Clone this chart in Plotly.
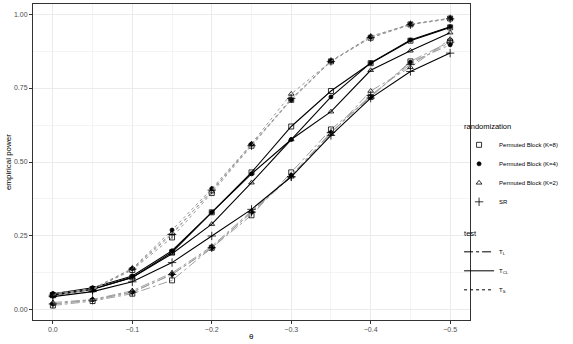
import plotly.graph_objects as go

# effect size theta (x axis, shown reversed)
theta = [0.0, -0.05, -0.1, -0.15, -0.2, -0.25, -0.3, -0.35, -0.4, -0.45, -0.5]

randomizations = ["Permuted Block (K=8)", "Permuted Block (K=4)", "Permuted Block (K=2)", "SR"]
tests = ["T<sub>L</sub>", "T<sub>CL</sub>", "T<sub>S</sub>"]

# empirical power, one list per test/randomization
tl_k8 = [0.015, 0.030, 0.055, 0.100, 0.210, 0.320, 0.465, 0.610, 0.720, 0.840, 0.907]
tl_k4 = [0.020, 0.035, 0.060, 0.120, 0.210, 0.330, 0.455, 0.600, 0.720, 0.837, 0.896]
tl_k2 = [0.025, 0.035, 0.065, 0.125, 0.215, 0.335, 0.450, 0.595, 0.740, 0.820, 0.915]
tl_sr = [0.020, 0.033, 0.060, 0.120, 0.210, 0.330, 0.450, 0.600, 0.725, 0.830, 0.905]

tcl_k8 = [0.050, 0.070, 0.110, 0.195, 0.330, 0.465, 0.620, 0.740, 0.834, 0.910, 0.955]
tcl_k4 = [0.055, 0.075, 0.115, 0.200, 0.330, 0.460, 0.576, 0.720, 0.835, 0.912, 0.957]
tcl_k2 = [0.050, 0.070, 0.110, 0.190, 0.290, 0.430, 0.576, 0.670, 0.810, 0.876, 0.937]
tcl_sr = [0.045, 0.062, 0.095, 0.160, 0.250, 0.340, 0.450, 0.590, 0.716, 0.806, 0.868]

ts_k8 = [0.050, 0.070, 0.135, 0.245, 0.395, 0.555, 0.710, 0.840, 0.920, 0.965, 0.985]
ts_k4 = [0.055, 0.072, 0.140, 0.270, 0.410, 0.560, 0.710, 0.842, 0.922, 0.966, 0.986]
ts_k2 = [0.050, 0.070, 0.140, 0.260, 0.400, 0.562, 0.730, 0.840, 0.925, 0.965, 0.985]
ts_sr = [0.050, 0.068, 0.138, 0.255, 0.405, 0.555, 0.715, 0.840, 0.920, 0.964, 0.984]

power = {
    "T<sub>L</sub>": [tl_k8, tl_k4, tl_k2, tl_sr],
    "T<sub>CL</sub>": [tcl_k8, tcl_k4, tcl_k2, tcl_sr],
    "T<sub>S</sub>": [ts_k8, ts_k4, ts_k2, ts_sr],
}

symbols = ["square-open", "circle", "triangle-up-open", "cross-thin-open"]
sizes = [5, 4, 5, 6]
line_style = {
    "T<sub>L</sub>": dict(color="#a0a0a0", dash="dashdot", width=1),
    "T<sub>CL</sub>": dict(color="black", dash="solid", width=1.1),
    "T<sub>S</sub>": dict(color="#999999", dash="dot", width=1),
}

fig = go.Figure()

for t in tests:
    for r, sym, sz, y in zip(randomizations, symbols, sizes, power[t]):
        fig.add_trace(go.Scatter(
            x=theta, y=y, mode="lines+markers",
            line=line_style[t],
            marker=dict(symbol=sym, size=sz, color="black", line=dict(color="black", width=0.8)),
            showlegend=False, hoverinfo="skip",
        ))

# legend entries: shapes for randomization, line types for test
for i, (r, sym, sz) in enumerate(zip(randomizations, symbols, sizes)):
    fig.add_trace(go.Scatter(
        x=[None], y=[None], mode="markers", name=r,
        marker=dict(symbol=sym, size=sz, color="black", line=dict(color="black", width=0.8)),
        legendgroup="rand", legendgrouptitle_text="randomization" if i == 0 else None,
    ))
for i, t in enumerate(tests):
    fig.add_trace(go.Scatter(
        x=[None], y=[None], mode="lines", name=t,
        line=dict(color="black", dash=line_style[t]["dash"], width=1),
        legendgroup="test", legendgrouptitle_text="test" if i == 0 else None,
    ))

axis_common = dict(
    showline=True, linecolor="#333333", linewidth=1, mirror=True,
    showgrid=True, gridcolor="#ebebeb", gridwidth=1,
    ticks="outside", ticklen=3, tickcolor="#333333",
    tickfont=dict(size=7, color="#4d4d4d"),
    zeroline=False, automargin=False,
    minor=dict(showgrid=True, gridcolor="#f4f4f4", gridwidth=0.6),
)

fig.update_xaxes(
    range=[0.025, -0.525], tickvals=[0.0, -0.1, -0.2, -0.3, -0.4, -0.5],
    ticktext=["0.0", "\u22120.1", "\u22120.2", "\u22120.3", "\u22120.4", "\u22120.5"],
    minor_tickvals=[-0.05, -0.15, -0.25, -0.35, -0.45],
    **axis_common,
)
fig.update_yaxes(
    range=[-0.034, 1.034], tickvals=[0, 0.25, 0.5, 0.75, 1.0],
    ticktext=["0.00", "0.25", "0.50", "0.75", "1.00"],
    minor_tickvals=[0.125, 0.375, 0.625, 0.875],
    **axis_common,
)

# axis titles as annotations so the margins stay fixed
fig.add_annotation(
    text="\u03b8", xref="paper", yref="paper", x=0.5, y=-0.052,
    xanchor="center", yanchor="middle", showarrow=False,
    font=dict(size=8, color="black"),
)
fig.add_annotation(
    text="empirical power", xref="paper", yref="paper", x=-0.057, y=0.5,
    xanchor="center", yanchor="middle", textangle=-90, showarrow=False,
    font=dict(size=8, color="black"),
)

fig.update_layout(
    width=573, height=344,
    margin=dict(l=33, r=103, t=4, b=24),
    plot_bgcolor="white", paper_bgcolor="white",
    font=dict(family="Liberation Sans, Arial, sans-serif", size=7, color="black"),
    legend=dict(
        x=0.975, y=0.355, xanchor="left", yanchor="middle",
        font=dict(size=6), tracegroupgap=12, itemwidth=30,
        grouptitlefont=dict(size=7.5), bgcolor="rgba(0,0,0,0)",
    ),
)

# drop the default page margin so the figure sits at the window's corner
fig.write_html(
    "out.html",
    config={"displayModeBar": False},
    post_script="document.body.style.margin='0';",
)
